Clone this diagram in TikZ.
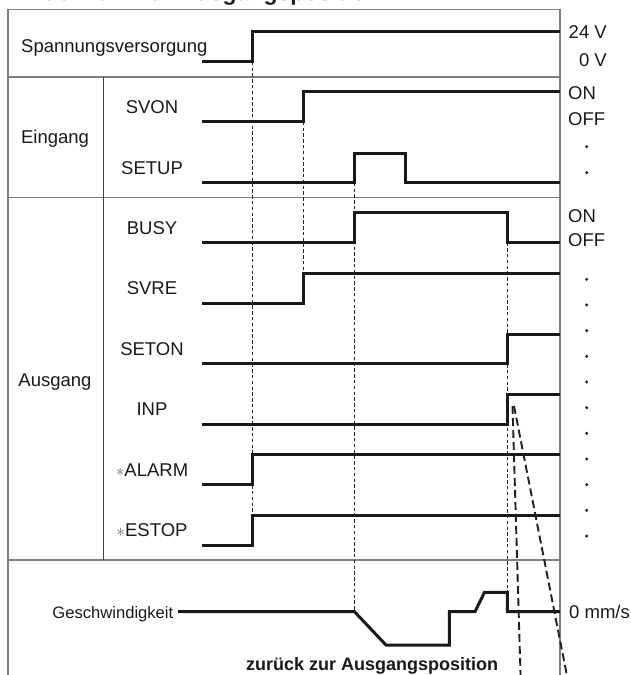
\documentclass[tikz,border=0pt]{standalone}
\usepackage{fontspec}
\setmainfont{Liberation Sans}
\begin{document}
\begin{tikzpicture}[x=1pt,y=-1pt,
  frame/.style={draw=black!50, line width=1.1pt},
  divider/.style={draw=black!75, line width=1pt},
  sig/.style={draw=black!90, line width=3pt, line join=miter},
  guide/.style={draw=black!85, line width=0.9pt, dash pattern=on 3.5pt off 2.3pt},
  trace/.style={draw=black!88, line width=1.9pt, dash pattern=on 8pt off 4pt},
  lbl/.style={font=\fontsize{18.5}{20}\selectfont, inner sep=0pt, text height=13.2pt, text depth=0pt, text=black!90},
  dot/.style={circle, fill=black!85, inner sep=0pt, minimum size=3.4pt},
]
\path[use as bounding box] (0,0) rectangle (631,675);
\clip (0,0) rectangle (631,675);

% heading (only its lower edge lies inside the page)
\node[anchor=base west, inner sep=0pt, font=\bfseries\fontsize{23}{25}\selectfont, text=black!88] (title) at (27,0.8) {Rückkehr zur Ausgangsposition};

% table frame
\draw[frame] (8,680) -- (8,9.5) -- (560,9.5) -- (560,680);
\draw[frame] (8,77) -- (560,77);
\draw[frame] (8,197.5) -- (560,197.5);
\draw[frame] (8,560) -- (560,560);
\draw[divider] (103.3,77) -- (103.3,560);

% transition instants
\coordinate (pwr) at (252.5,61.7);
\coordinate (pwrE) at (252.5,515.5);
\coordinate (svon) at (303.5,121.7);
\coordinate (svonE) at (303.5,273.5);
\coordinate (setup) at (354.5,182.7);
\coordinate (setupE) at (354.5,611.7);
\coordinate (busy) at (507.3,242.3);
\coordinate (busyE) at (507.3,592.3);

% guide lines
\draw[guide] (pwr) -- (pwrE);
\draw[guide] (svon) -- (svonE);
\draw[guide] (setup) -- (setupE);
\draw[guide] (busy) -- (busyE);

% positioning window
\coordinate (inpA) at (512.5,406);
\coordinate (inpB) at (514,406);
\coordinate (endA) at (520.7,680);
\coordinate (endB) at (567.8,680);
\draw[trace] (inpA) -- (endA);
\draw[trace] (inpB) -- (endB);

% waveforms
\draw[sig] (202,61.7) -- (252.5,61.7) -- (252.5,31.7) -- (560,31.7);
\draw[sig] (202,121.7) -- (303.5,121.7) -- (303.5,91.7) -- (560,91.7);
\draw[sig] (202,182.7) -- (354.5,182.7) -- (354.5,153.3) -- (405.7,153.3) -- (405.7,182.7) -- (560,182.7);
\draw[sig] (202,242.3) -- (354.5,242.3) -- (354.5,212.5) -- (507.3,212.5) -- (507.3,242.3) -- (560,242.3);
\draw[sig] (202,303.3) -- (303.5,303.3) -- (303.5,273.5) -- (560,273.5);
\draw[sig] (202,363.7) -- (507.3,363.7) -- (507.3,334) -- (560,334);
\draw[sig] (202,424.3) -- (507.3,424.3) -- (507.3,394.3) -- (560,394.3);
\draw[sig] (202,484.5) -- (252.5,484.5) -- (252.5,454.5) -- (560,454.5);
\draw[sig] (202,545.5) -- (252.5,545.5) -- (252.5,515.5) -- (560,515.5);
\draw[sig] (178,611.7) -- (354.5,611.7) -- (386,645) -- (449.3,645) -- (449.3,611.7)
  -- (475,611.7) -- (484.5,592.3) -- (507.3,592.3) -- (507.3,611.7) -- (560,611.7);

% row labels
\node[lbl, anchor=west] (lPwr) at (21,46) {Spannungsversorgung};
\node[lbl] (lIn) at (55,137) {Eingang};
\node[lbl] (lSvon) at (152,106.5) {SVON};
\node[lbl] (lSetup) at (152,168) {SETUP};
\node[lbl] (lOut) at (55,380) {Ausgang};
\node[lbl] (lBusy) at (152,228) {BUSY};
\node[lbl] (lSvre) at (152,288) {SVRE};
\node[lbl] (lSeton) at (152,349) {SETON};
\node[lbl] (lInp) at (152,409) {INP};
\node[lbl] (lAlarm) at (152,469.5) {{\color{black!60}$\ast$}ALARM};
\node[lbl] (lEstop) at (152,529.5) {{\color{black!60}$\ast$}ESTOP};
\node[lbl, anchor=east, font=\fontsize{16.6}{20}\selectfont] (lSpeed) at (173.5,612) {Geschwindigkeit};

% level labels
\node[lbl, anchor=east] (v24) at (607,32) {24 V};
\node[lbl, anchor=east] (v0) at (607,59.5) {0 V};
\node[lbl, anchor=west] (on1) at (568,93) {ON};
\node[lbl, anchor=west] (off1) at (568,118.5) {OFF};
\node[dot] (d1) at (586.7,146.7) {};
\node[dot] (d2) at (586.7,172.7) {};
\node[lbl, anchor=west] (on2) at (568,215.5) {ON};
\node[lbl, anchor=west] (off2) at (568,240) {OFF};
\foreach \k in {0,...,10}
  \node[dot] (e\k) at (586.7,279.3+25.67*\k) {};
\node[lbl, anchor=west] (mms) at (569,612) {0 mm/s};

% caption of the movement
\node[anchor=base west, inner sep=0pt, font=\bfseries\fontsize{18}{20}\selectfont, text=black!90] (back) at (246,670.5) {zurück zur Ausgangsposition};
\end{tikzpicture}
\end{document}
